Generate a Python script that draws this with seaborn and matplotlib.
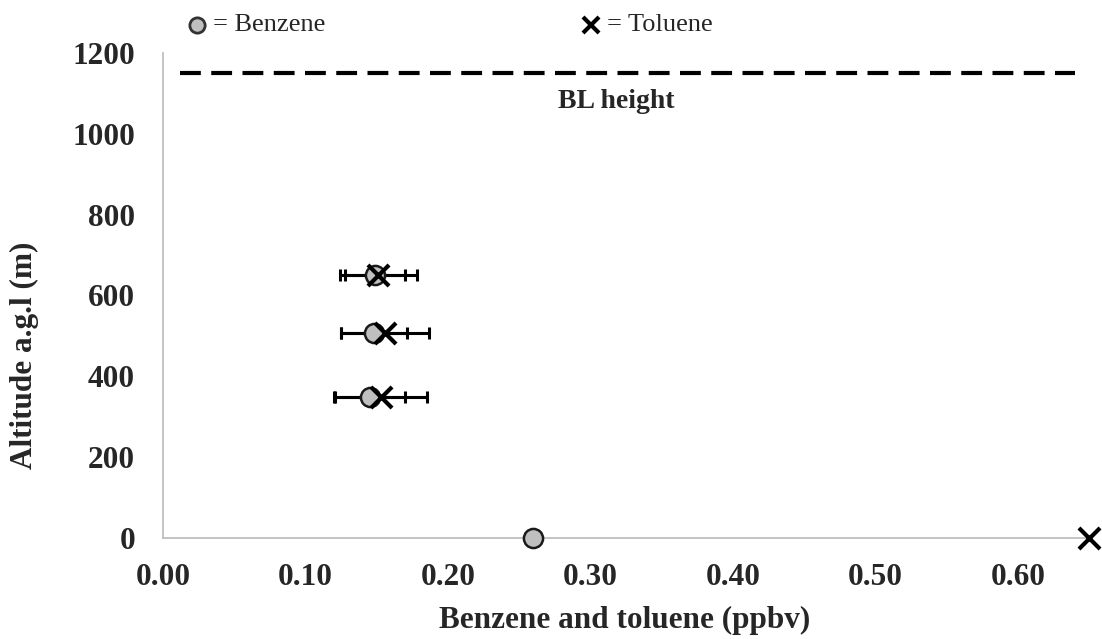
import matplotlib
matplotlib.use("Agg")
import matplotlib.pyplot as plt
import seaborn as sns
import pandas as pd
from matplotlib.lines import Line2D

# ---- data ----
altitude = [650, 507, 349, 0]
benzene = [0.149, 0.148, 0.145, 0.26]
benzene_err = [0.021, 0.023, 0.025, 0.0]
toluene_alt = [650, 507, 349, 0]
toluene = [0.151, 0.156, 0.153, 0.65]
toluene_err = [0.027, 0.031, 0.032, 0.0]
bl_height = 1150
x_ticks = [0.0, 0.1, 0.2, 0.3, 0.4, 0.5, 0.6]
y_ticks = [0, 200, 400, 600, 800, 1000, 1200]

sns.set_theme(style="white")
plt.rcParams["font.family"] = ["Liberation Serif", "DejaVu Serif"]

W, H = 1102, 639
fig = plt.figure(figsize=(W / 100, H / 100), dpi=100)
ax = fig.add_axes([163 / W, 1 - 538 / H, (1089 - 163) / W, (538 - 53) / H])

df_b = pd.DataFrame({"x": benzene, "y": altitude})
df_t = pd.DataFrame({"x": toluene, "y": toluene_alt})

for x, y, e in zip(benzene, altitude, benzene_err):
    if e > 0:
        ax.errorbar(x, y, xerr=e, fmt="none", ecolor="black", elinewidth=2.2,
                    capsize=4.5, capthick=2.2, zorder=2)
for x, y, e in zip(toluene, toluene_alt, toluene_err):
    if e > 0:
        ax.errorbar(x, y, xerr=e, fmt="none", ecolor="black", elinewidth=2.2,
                    capsize=4.5, capthick=2.2, zorder=2)

sns.scatterplot(data=df_b, x="x", y="y", ax=ax, marker="o", s=190,
                color="#BFBFBF", edgecolor="#1a1a1a", linewidth=1.8,
                zorder=3, clip_on=False)
sns.scatterplot(data=df_t, x="x", y="y", ax=ax, marker="x", s=230,
                color="black", linewidth=3, zorder=4, clip_on=False)

ax.axhline(bl_height, xmin=0.018, xmax=0.985, color="black", lw=3,
           dashes=(5, 2.5))
ax.text(0.3185, 1080, "BL height", ha="center", va="center",
        fontsize=20, fontweight="bold")

ax.set_xlim(0, 0.65)
ax.set_ylim(0, 1200)
ax.set_xticks(x_ticks)
ax.set_xticklabels([f"{v:.2f}" for v in x_ticks])
ax.set_yticks(y_ticks)
ax.set_yticklabels([str(v) for v in y_ticks])
ax.set_xlabel("")
ax.set_ylabel("")

for s in ["top", "right"]:
    ax.spines[s].set_visible(False)
for s in ["left", "bottom"]:
    ax.spines[s].set_color("#BFBFBF")
    ax.spines[s].set_linewidth(1.3)
ax.tick_params(axis="both", which="major", direction="out", length=5,
               width=1.3, color="#BFBFBF", labelsize=22.5)
ax.tick_params(axis="x", pad=13)
ax.tick_params(axis="y", pad=15)
for lab in ax.get_xticklabels() + ax.get_yticklabels():
    lab.set_fontweight("bold")
ax.grid(False)

fig.text(625 / W, 1 - 620 / H, "Benzene and toluene (ppbv)", fontsize=22.5,
         fontweight="bold", ha="center", va="center")
fig.text(24 / W, 1 - 355 / H, "Altitude a.g.l (m)", fontsize=22.5,
         fontweight="bold", ha="center", va="center", rotation=90)

# legend-like header
fig.add_artist(Line2D([197 / W], [1 - 25 / H], marker="o", markersize=11,
                      markerfacecolor="#BFBFBF", markeredgecolor="#333333",
                      markeredgewidth=2, linestyle="none"))
fig.text(213 / W, 1 - 25 / H, "= Benzene", fontsize=19, va="center", ha="left")
fig.add_artist(Line2D([591 / W], [1 - 25 / H], marker="x", markersize=11,
                      color="black", markeredgewidth=3, linestyle="none"))
fig.text(607 / W, 1 - 25 / H, "= Toluene", fontsize=19, va="center", ha="left")

fig.savefig("out.png", dpi=100)
